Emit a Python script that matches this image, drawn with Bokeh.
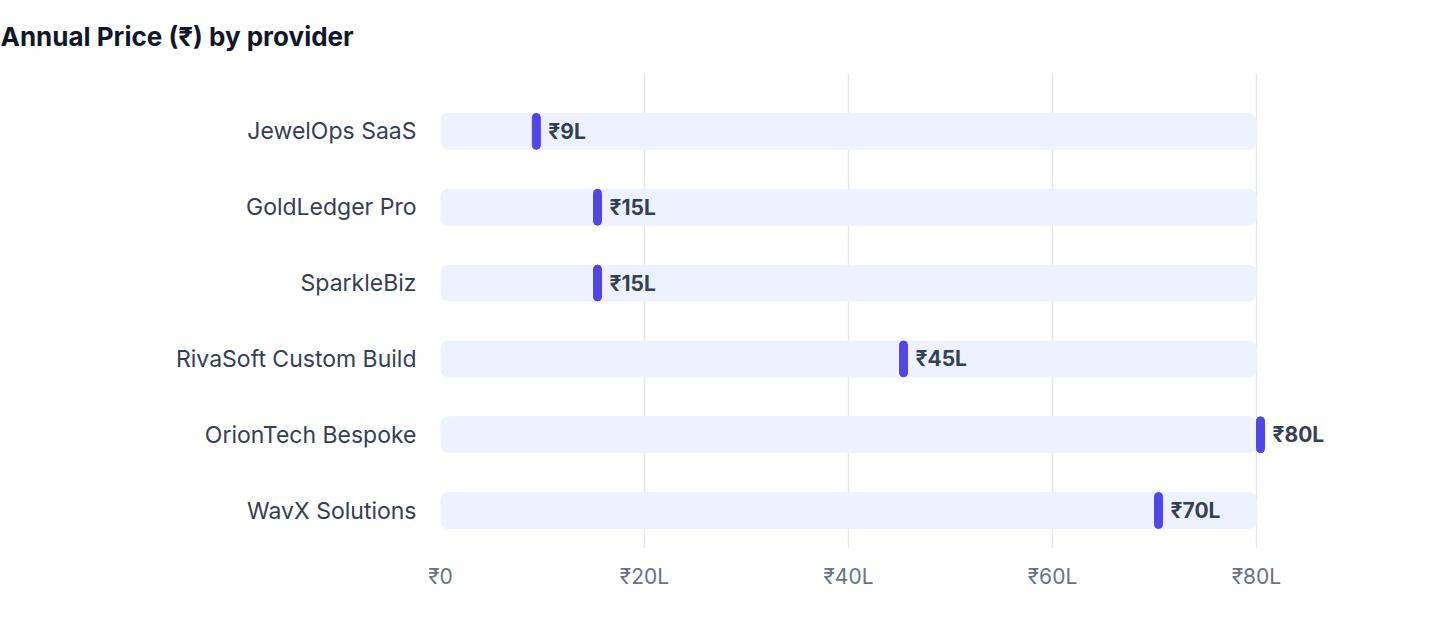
from bokeh.plotting import figure
from bokeh.models import FixedTicker, Title, Range1d
from bokeh.core.properties import value
from bokeh.embed import file_html
from bokeh.resources import INLINE

# Chart data
providers = ['JewelOps SaaS', 'GoldLedger Pro', 'SparkleBiz',
             'RivaSoft Custom Build', 'OrionTech Bespoke', 'WavX Solutions']
prices = [9, 15, 15, 45, 80, 70]  # annual price, in lakh rupees
tick_values = [0, 20, 40, 60, 80]
tick_labels = ['₹0', '₹20L', '₹40L', '₹60L', '₹80L']

FONT = 'Inter'
SLATE = '#334155'

# top row gets the highest y
ys = [len(providers) - 1 - i for i in range(len(providers))]
track_end = [max(tick_values)] * len(providers)
marker_w = 8 / 10.2  # ~8px wide pill in data units
marker_right = [v + marker_w for v in prices]
value_labels = [f'₹{v}L' for v in prices]

p = figure(width=1424, height=620, output_backend='svg', toolbar_location=None,
           min_border_left=440, min_border_right=66, min_border_top=72, min_border_bottom=72,
           x_range=Range1d(0, 90), y_range=Range1d(-0.5, -0.5 + 476 / 76))
p.outline_line_color = None

# title pulled back to the page's left edge
p.add_layout(Title(text='Annual Price (₹) by provider', align='left', vertical_align='top',
                   offset=-440, standoff=40,
                   text_font=FONT, text_font_size='26px', text_font_style='bold',
                   text_color='#0F172A'), 'above')

# background tracks
p.hbar(y=ys, left=0, right=track_end, height=36 / 76, color='#EEF2FF', border_radius=8)
# value markers
p.hbar(y=ys, left=prices, right=marker_right, height=36 / 76, color='#4F46E5', border_radius=4)
# value labels
p.text(x=prices, y=ys, text=value_labels, x_offset=16, text_baseline='middle', text_align='left',
       text_font_size='21px', text_font_style='bold', text_color=SLATE, text_font=value(FONT))

p.xaxis.ticker = FixedTicker(ticks=tick_values)
p.xaxis.major_label_overrides = dict(zip(tick_values, tick_labels))
p.xaxis.major_label_text_font = FONT
p.xaxis.major_label_text_font_size = '21px'
p.xaxis.major_label_text_color = '#64748B'
p.xaxis.major_label_standoff = 9
p.xaxis.axis_line_color = None
p.xaxis.major_tick_line_color = None
p.xaxis.minor_tick_line_color = None

p.yaxis.ticker = FixedTicker(ticks=ys)
p.yaxis.major_label_overrides = dict(zip(ys, providers))
p.yaxis.major_label_text_font = FONT
p.yaxis.major_label_text_font_size = '23px'
p.yaxis.major_label_text_color = SLATE
p.yaxis.major_label_standoff = 18
p.yaxis.axis_line_color = None
p.yaxis.major_tick_line_color = None
p.yaxis.minor_tick_line_color = None

p.xgrid.ticker = FixedTicker(ticks=tick_values)
p.xgrid.grid_line_color = '#E2E8F0'
p.xgrid.grid_line_width = 1.5
p.ygrid.grid_line_color = None

open('out.html', 'w').write(file_html(p, INLINE))
